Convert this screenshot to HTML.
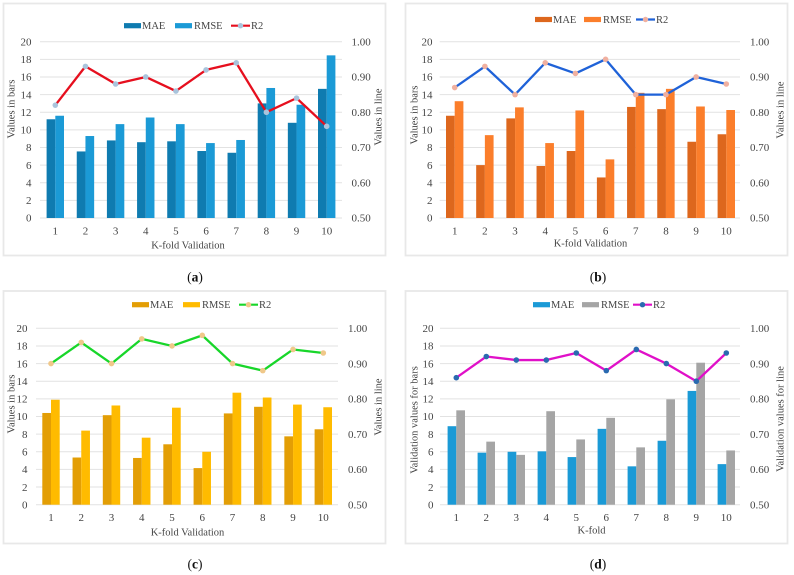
<!DOCTYPE html>
<html>
<head>
<meta charset="utf-8">
<title>K-fold validation charts</title>
<style>
html,body{margin:0;padding:0;background:#fff;}
#figure{display:block;width:794px;height:575px;}
text{font-family:"Liberation Serif",serif;fill:#444;}
</style>
</head>
<body>
<svg id="figure" xmlns="http://www.w3.org/2000/svg" width="794" height="575" viewBox="0 0 794 575"></svg>
<script>
var categories = ['1','2','3','4','5','6','7','8','9','10'];
var barTicks = [0,2,4,6,8,10,12,14,16,18,20];
var lineTicks = [0.5,0.6,0.7,0.8,0.9,1.0];

var maeA = [11.2,7.55,8.8,8.6,8.7,7.6,7.4,13,10.8,14.65];
var rmseA = [11.6,9.3,10.65,11.4,10.65,8.5,8.85,14.75,12.85,18.45];
var r2A = [0.82,0.93,0.88,0.90,0.86,0.92,0.94,0.80,0.84,0.76];

var maeB = [11.6,6,11.3,5.9,7.6,4.6,12.6,12.35,8.65,9.5];
var rmseB = [13.25,9.4,12.55,8.5,12.2,6.65,14.2,14.65,12.65,12.25];
var r2B = [0.87,0.93,0.85,0.94,0.91,0.95,0.85,0.85,0.90,0.88];

var maeC = [10.4,5.35,10.15,5.3,6.85,4.15,10.35,11.1,7.75,8.55];
var rmseC = [11.9,8.4,11.25,7.6,11,6,12.7,12.15,11.35,11.05];
var r2C = [0.90,0.96,0.90,0.97,0.95,0.98,0.90,0.88,0.94,0.93];

var maeD = [8.9,5.9,6,6.05,5.4,8.6,4.35,7.25,12.9,4.6];
var rmseD = [10.7,7.15,5.65,10.6,7.4,9.85,6.5,11.95,16.1,6.15];
var r2D = [0.86,0.92,0.91,0.91,0.93,0.88,0.94,0.90,0.85,0.93];

var svg = document.getElementById('figure');
var NS = 'http://www.w3.org/2000/svg';

function make(parent, tag, attrs, content) {
  var el = document.createElementNS(NS, tag);
  for (var k in attrs) el.setAttribute(k, attrs[k]);
  if (content !== undefined) el.textContent = content;
  parent.appendChild(el);
  return el;
}

function drawPanel(p) {
  var g = make(svg, 'g', {});
  
  

  var frame = make(g, 'rect', {x:p.fx, y:p.fy, width:p.fw, height:p.fh, fill:'#fff', stroke:'#e8e8e8', 'stroke-width':1.8});
  
  

  function yBar(v) { return p.y0 + (v - 0) / 20 * (p.y20 - p.y0); }
  function yLine(v) { return p.y0 + (v - 0.5) / 0.5 * (p.y20 - p.y0); }
  function xCat(i) { return p.c1 + i * (p.c10 - p.c1) / (categories.length - 1); }

  barTicks.forEach(function (t) {
    var gl = make(g, 'line', {x1:p.gx1, x2:p.gx2, y1:yBar(t), y2:yBar(t), stroke:'#e2e2e2', 'stroke-width':1});
    
    
    var lbl = make(g, 'text', {x:p.lx, y:yBar(t) + 3.7, 'text-anchor':'end', 'font-size':11}, String(t));
    
    
  });

  lineTicks.forEach(function (t) {
    var lbl = make(g, 'text', {x:p.rx, y:yLine(t) + 3.7, 'text-anchor':'start', 'font-size':11}, t.toFixed(2));
    
    
  });

  var bw = 8.7;
  categories.forEach(function (c, i) {
    var m = make(g, 'rect', {x:xCat(i) - bw, y:yBar(p.mae[i]), width:bw, height:yBar(0) - yBar(p.mae[i]), fill:p.cMae});
    
    
    var r = make(g, 'rect', {x:xCat(i), y:yBar(p.rmse[i]), width:bw, height:yBar(0) - yBar(p.rmse[i]), fill:p.cRmse});
    
    
    var lbl = make(g, 'text', {x:xCat(i), y:p.xTickY, 'text-anchor':'middle', 'font-size':11}, c);
    
    
  });

  var pts = p.r2.map(function (v, i) { return xCat(i) + ',' + yLine(v); }).join(' ');
  var line = make(g, 'polyline', {points:pts, fill:'none', stroke:p.cLine, 'stroke-width':2.3, 'stroke-linejoin':'round'});
  
  
  p.r2.forEach(function (v, i) {
    var pt = make(g, 'circle', {cx:xCat(i), cy:yLine(v), r:2.8, fill:p.cMark});
    
    
  });

  var ly = p.legY;
  var s1 = make(g, 'rect', {x:p.leg[0], y:ly - 2.6, width:17, height:5.2, fill:p.cMae});
  
  
  var t1 = make(g, 'text', {x:p.leg[0] + 18, y:ly + 3.5, 'font-size':10.5}, 'MAE');
  
  
  var s2 = make(g, 'rect', {x:p.leg[1], y:ly - 2.6, width:17, height:5.2, fill:p.cRmse});
  
  
  var t2 = make(g, 'text', {x:p.leg[1] + 19, y:ly + 3.5, 'font-size':10.5}, 'RMSE');
  
  
  var s3 = make(g, 'line', {x1:p.leg[2], x2:p.leg[2] + 19, y1:ly, y2:ly, stroke:p.cLine, 'stroke-width':2.2});
  
  
  var s4 = make(g, 'circle', {cx:p.leg[2] + 9.5, cy:ly, r:2.7, fill:p.cMark});
  
  
  var t3 = make(g, 'text', {x:p.leg[2] + 20, y:ly + 3.5, 'font-size':10.5}, 'R2');
  
  

  var xt = make(g, 'text', {x:p.xtx, y:p.xty + 3.5, 'text-anchor':'middle', 'font-size':10.5}, p.xTitle);
  
  
  var yl = make(g, 'text', {transform:'translate(' + p.ylx + ',' + p.yly + ') rotate(-90)', 'text-anchor':'middle', 'font-size':10.5}, p.yLeft);
  
  
  var yr = make(g, 'text', {transform:'translate(' + p.yrx + ',' + p.yry + ') rotate(-90)', 'text-anchor':'middle', 'font-size':10.5}, p.yRight);
  
  

  var cap = make(g, 'text', {x:p.capX, y:p.capY + 4.5, 'text-anchor':'middle', 'font-size':13.5, style:'fill:#111'});
  
  
  make(cap, 'tspan', {}, '(');
  make(cap, 'tspan', {'font-weight':'bold'}, p.id);
  make(cap, 'tspan', {}, ')');
}

drawPanel({id:'a', mae:maeA, rmse:rmseA, r2:r2A, cMae:'#0f7bb0', cRmse:'#1b9ad6', cLine:'#e60f1e', cMark:'#a9c4dc',
  fx:3.5, fy:3.5, fw:382, fh:252, y0:218, y20:41.7, c1:55.3, c10:326.7, gx1:40, gx2:342, lx:31.5, rx:351.5, xTickY:234.5,
  leg:[124,175,231], legY:25.7, xTitle:'K-fold Validation', xtx:188, xty:245, yLeft:'Values in bars', ylx:14.5, yly:109, yRight:'Values in line', yrx:381.5, yry:117, capX:195, capY:277});

drawPanel({id:'b', mae:maeB, rmse:rmseB, r2:r2B, cMae:'#dd671d', cRmse:'#fb7e2b', cLine:'#1f62d8', cMark:'#f0b0a0',
  fx:405.5, fy:3.5, fw:382, fh:252, y0:218, y20:41.7, c1:454.7, c10:726.3, gx1:439.7, gx2:740, lx:432.5, rx:750, xTickY:234.5,
  leg:[535,584,636], legY:19.5, xTitle:'K-fold Validation', xtx:590.5, xty:243, yLeft:'Values in bars', ylx:417.5, yly:115, yRight:'Values in line', yrx:783.5, yry:110, capX:598, capY:277});

drawPanel({id:'c', mae:maeC, rmse:rmseC, r2:r2C, cMae:'#e39e05', cRmse:'#ffbb00', cLine:'#18d62a', cMark:'#f0c88a',
  fx:3.5, fy:291, fw:382, fh:252.5, y0:504.7, y20:328.3, c1:51, c10:323.3, gx1:36, gx2:338, lx:27.5, rx:348, xTickY:521,
  leg:[132,183,239], legY:304.7, xTitle:'K-fold Validation', xtx:187.5, xty:532, yLeft:'Values in bars', ylx:14.5, yly:404, yRight:'Values in line', yrx:381.5, yry:407, capX:195, capY:564});

drawPanel({id:'d', mae:maeD, rmse:rmseD, r2:r2D, cMae:'#1b9ad6', cRmse:'#a5a5a5', cLine:'#e010c8', cMark:'#2a6ab0',
  fx:405.5, fy:291, fw:382, fh:252.5, y0:504.7, y20:328.3, c1:456.3, c10:726.3, gx1:440, gx2:740, lx:433.5, rx:750, xTickY:521,
  leg:[533,582,633], legY:304.7, xTitle:'K-fold', xtx:591.5, xty:530, yLeft:'Validation values for bars', ylx:417.5, yly:420, yRight:'Validation values for line', yrx:783.5, yry:419, capX:598, capY:564});
</script>
</body>
</html>
